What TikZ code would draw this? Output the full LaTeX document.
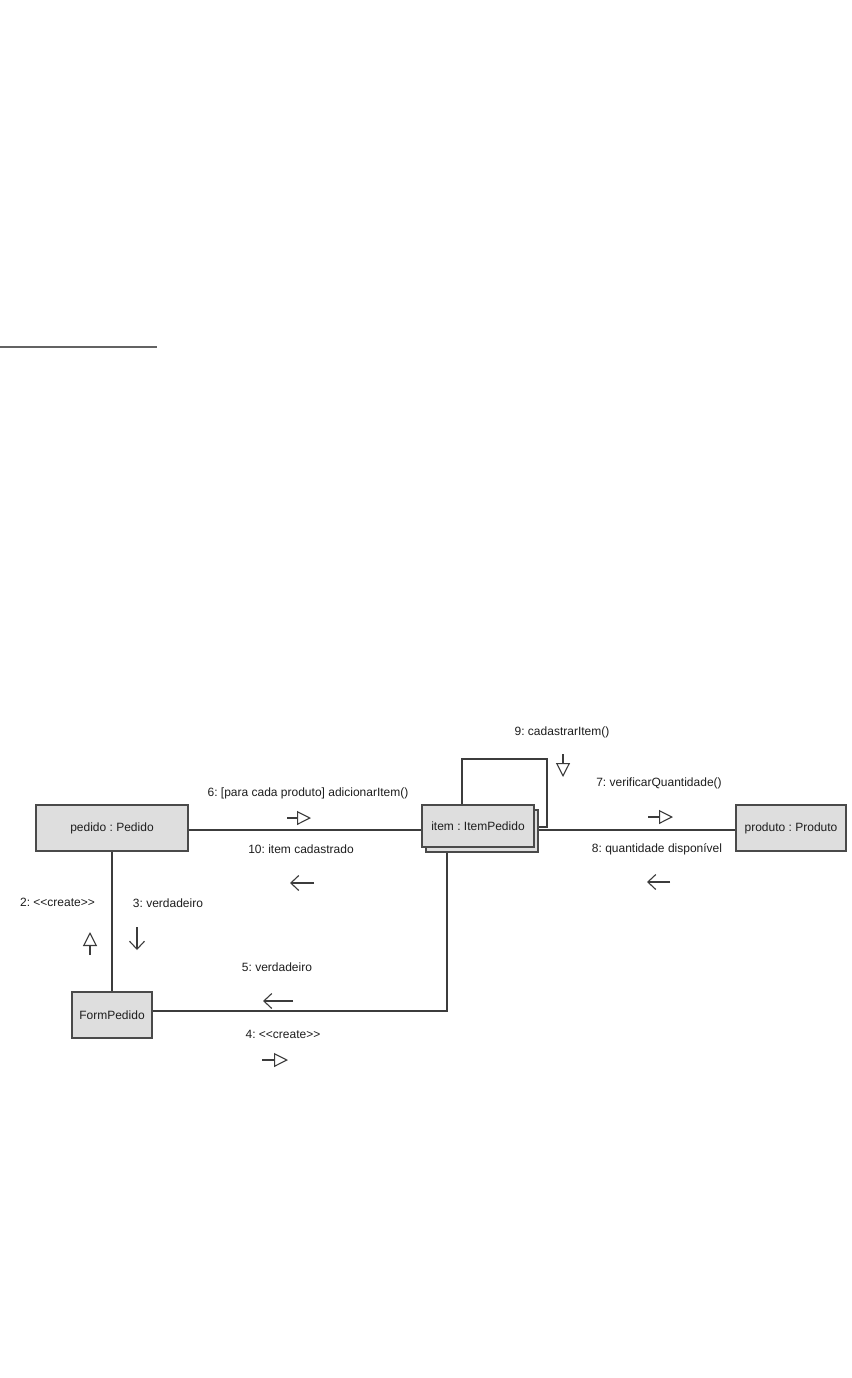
\documentclass[tikz,border=0pt]{standalone}
\usepackage{fontspec}
\setmainfont{Liberation Sans}
\usetikzlibrary{arrows.meta}
\definecolor{boxfill}{HTML}{DEDEDE}
\definecolor{boxline}{HTML}{4A4A4A}
\definecolor{wire}{HTML}{3C3C3C}
\definecolor{txt}{HTML}{1E1E1E}
\frenchspacing
\begin{document}
\begin{tikzpicture}[x=1pt,y=-1pt,
  obj/.style={draw=boxline, fill=boxfill, line width=1.4pt, inner sep=0pt,
    text=txt, font=\fontsize{12}{14}\selectfont},
  link/.style={draw=wire, line width=1.4pt},
  lbl/.style={text=txt, font=\fontsize{12}{14}\selectfont, inner sep=0pt},
  tri/.style={draw=wire, line width=1.1pt, -{Triangle[open,length=14pt,width=14pt]}},
  barb/.style={draw=wire, line width=1.1pt, -{Straight Barb[length=8pt,width=15pt]}}]
\path[use as bounding box, fill=white] (0,0) rectangle (851,1378);

% stray rule top-left
\coordinate (r1) at (0,347);
\coordinate (r2) at (157,347);
\draw[draw=wire!80, line width=1.4pt] (r1) -- (r2);

% objects
\node[obj, minimum width=152pt, minimum height=46pt] (pedido) at (112,828) {pedido : Pedido};
\node[obj, minimum width=112pt, minimum height=42pt] (itemsh) at (482,831) {};
\node[obj, minimum width=112pt, minimum height=42pt] (item) at (478,826) {item : ItemPedido};
\node[obj, minimum width=110pt, minimum height=46pt] (produto) at (791,828) {produto : Produto};
\node[obj, minimum width=80pt, minimum height=46pt] (form) at (112,1015) {FormPedido};

% links
\coordinate (loopc) at (547,759);
\draw[link] ([yshift=-2pt]pedido.east) -- ([yshift=-2pt]pedido.east -| item.west);
\draw[link] ([yshift=-2pt]produto.west -| itemsh.east) -- ([yshift=-2pt]produto.west);
\draw[link] ([xshift=-16pt]item.north) |- (loopc) |- ([yshift=4pt]itemsh.east);
\draw[link] (pedido.south) -- (form.north);
\draw[link] ([xshift=-35pt]itemsh.south) |- ([yshift=4pt]form.east);

% message labels
\node[lbl] (l6) at (308,793) {6: [para cada produto] adicionarItem()};
\node[lbl] (l10) at (301,849) {10: item cadastrado};
\node[lbl] (l9) at (562,732) {9: cadastrarItem()};
\node[lbl] (l7) at (659,783) {7: verificarQuantidade()};
\node[lbl] (l8) at (657,849) {8: quantidade disponível};
\node[lbl] (l2) at (57.5,902) {2: <{}<create>{}>};
\node[lbl] (l3) at (168,903) {3: verdadeiro};
\node[lbl] (l5) at (277,967) {5: verdadeiro};
\node[lbl] (l4) at (283,1034) {4: <{}<create>{}>};

% message arrows
\draw[tri] (287,818) -- (311,818);
\draw[barb] (314,883) -- (290,883);
\draw[tri] (563,754) -- (563,777);
\draw[tri] (648,817) -- (673,817);
\draw[barb] (670,882) -- (647,882);
\draw[tri] (90,955) -- (90,932);
\draw[barb] (137,927) -- (137,950);
\draw[barb] (293,1001) -- (263,1001);
\draw[tri] (262,1060) -- (288,1060);
\end{tikzpicture}
\end{document}
